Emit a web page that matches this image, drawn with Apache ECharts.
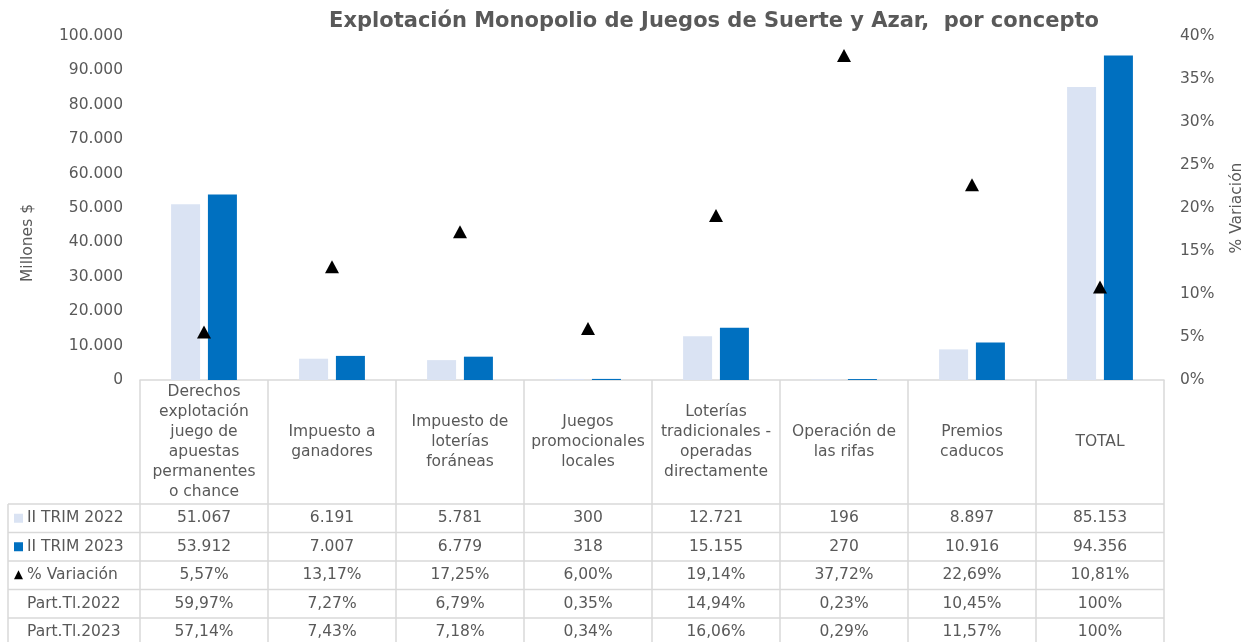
<!DOCTYPE html>
<html>
<head>
<meta charset="utf-8">
<script src="https://cdn.jsdelivr.net/npm/echarts@6/dist/echarts.min.js"></script>
<style>
  html, body { margin: 0; padding: 0; background: #fff; }
  #chart { width: 1244px; height: 642px; }
</style>
</head>
<body>
<div id="chart"></div>
<script>
// datos
var categories = [
  "Derechos\nexplotación\njuego de\napuestas\npermanentes\no chance",
  "Impuesto a\nganadores",
  "Impuesto de\nloterías\nforáneas",
  "Juegos\npromocionales\nlocales",
  "Loterías\ntradicionales -\noperadas\ndirectamente",
  "Operación de\nlas rifas",
  "Premios\ncaducos",
  "TOTAL"
];
var trim2022 = [51067, 6191, 5781, 300, 12721, 196, 8897, 85153];
var trim2023 = [53912, 7007, 6779, 318, 15155, 270, 10916, 94356];
var variacion = [5.57, 13.17, 17.25, 6.00, 19.14, 37.72, 22.69, 10.81];
var part2022 = [59.97, 7.27, 6.79, 0.35, 14.94, 0.23, 10.45, 100];
var part2023 = [57.14, 7.43, 7.18, 0.34, 16.06, 0.29, 11.57, 100];
var rowNames = ["II TRIM 2022", "II TRIM 2023", "% Variación", "Part.Tl.2022", "Part.Tl.2023"];

var GRAY = "#595959";
var LINE = "#d9d9d9";
var FONT = "DejaVu Sans";
var FS = 15.5;

function miles(v) {
  return String(v).replace(/\B(?=(\d{3})+(?!\d))/g, ".");
}
function pct(v) {
  if (v === 100) return "100%";
  return v.toFixed(2).replace(".", ",") + "%";
}

var chart = echarts.init(document.getElementById("chart"));

chart.setOption({
  animation: false,
  textStyle: { fontFamily: FONT },
  grid: { left: 140, right: 80, top: 36, bottom: 262 },
  xAxis: {
    type: "category",
    data: categories,
    axisLine: { lineStyle: { color: LINE, width: 1.5 } },
    axisTick: { show: false },
    axisLabel: {
      interval: 0,
      margin: 62,
      verticalAlign: "middle",
      color: GRAY,
      fontSize: FS,
      lineHeight: 20,
      fontFamily: FONT
    }
  },
  yAxis: [
    {
      type: "value",
      min: 0, max: 100000, interval: 10000,
      splitLine: { show: false },
      axisLine: { show: false },
      axisLabel: { color: GRAY, fontSize: FS, margin: 17, fontFamily: FONT, formatter: miles }
    },
    {
      type: "value",
      min: 0, max: 40, interval: 5,
      splitLine: { show: false },
      axisLine: { show: false },
      axisLabel: { color: GRAY, fontSize: FS, margin: 16, fontFamily: FONT, formatter: "{value}%" }
    }
  ],
  series: [
    {
      name: "II TRIM 2022", type: "bar", data: trim2022,
      barWidth: 29, barGap: "27%",
      itemStyle: { color: "#dae3f3" }
    },
    {
      name: "II TRIM 2023", type: "bar", data: trim2023,
      barWidth: 29, barGap: "27%",
      itemStyle: { color: "#0070c0" }
    },
    {
      name: "% Variación", type: "line", yAxisIndex: 1, data: variacion,
      lineStyle: { width: 0 }, symbol: "triangle", symbolSize: [14, 13],
      itemStyle: { color: "#000" }, z: 5
    }
  ]
});

// tabla de datos debajo del eje
var tableRows = [
  trim2022.map(miles),
  trim2023.map(miles),
  variacion.map(pct),
  part2022.map(pct),
  part2023.map(pct)
];
var rowTop = [504, 532.5, 561, 589.5, 618, 646.5];
var colEdges = [];
for (var i = 0; i <= categories.length; i++) colEdges.push(140 + 128 * i);

var g = [];
// líneas verticales
colEdges.forEach(function (x) {
  g.push({ type: "line", shape: { x1: x, y1: 380, x2: x, y2: 642 }, style: { stroke: LINE, lineWidth: 1.5 } });
});
g.push({ type: "line", shape: { x1: 8, y1: 504, x2: 8, y2: 642 }, style: { stroke: LINE, lineWidth: 1.5 } });
// líneas horizontales
rowTop.forEach(function (y) {
  g.push({ type: "line", shape: { x1: 8, y1: y, x2: 1164, y2: y }, style: { stroke: LINE, lineWidth: 1.5 } });
});
// valores
tableRows.forEach(function (vals, r) {
  var yc = (rowTop[r] + rowTop[r + 1]) / 2;
  vals.forEach(function (txt, c) {
    var xc = chart.convertToPixel({ xAxisIndex: 0 }, c);
    g.push({ type: "text", x: xc, y: yc, style: { text: txt, fill: GRAY, font: FS + "px " + FONT, textAlign: "center", textVerticalAlign: "middle" } });
  });
  g.push({ type: "text", x: 27, y: yc, style: { text: rowNames[r], fill: GRAY, font: FS + "px " + FONT, textAlign: "left", textVerticalAlign: "middle" } });
});
// claves de leyenda
var y1 = (rowTop[0] + rowTop[1]) / 2, y2 = (rowTop[1] + rowTop[2]) / 2, y3 = (rowTop[2] + rowTop[3]) / 2;
g.push({ type: "rect", shape: { x: 14, y: y1 - 4.5, width: 9, height: 9 }, style: { fill: "#dae3f3" } });
g.push({ type: "rect", shape: { x: 14, y: y2 - 4.5, width: 9, height: 9 }, style: { fill: "#0070c0" } });
g.push({ type: "polygon", shape: { points: [[18.5, y3 - 5], [23, y3 + 4], [14, y3 + 4]] }, style: { fill: "#000" } });
// títulos
g.push({ type: "text", x: 714, y: 22, style: { text: "Explotación Monopolio de Juegos de Suerte y Azar,  por concepto", fill: GRAY, font: "bold 21px " + FONT, textAlign: "center", textVerticalAlign: "middle" } });
g.push({ type: "text", x: 28, y: 243, rotation: Math.PI / 2, style: { text: "Millones $", fill: GRAY, font: FS + "px " + FONT, textAlign: "center", textVerticalAlign: "middle" } });
g.push({ type: "text", x: 1237, y: 208, rotation: Math.PI / 2, style: { text: "% Variación", fill: GRAY, font: FS + "px " + FONT, textAlign: "center", textVerticalAlign: "middle" } });

chart.setOption({ graphic: g });
</script>
</body>
</html>
